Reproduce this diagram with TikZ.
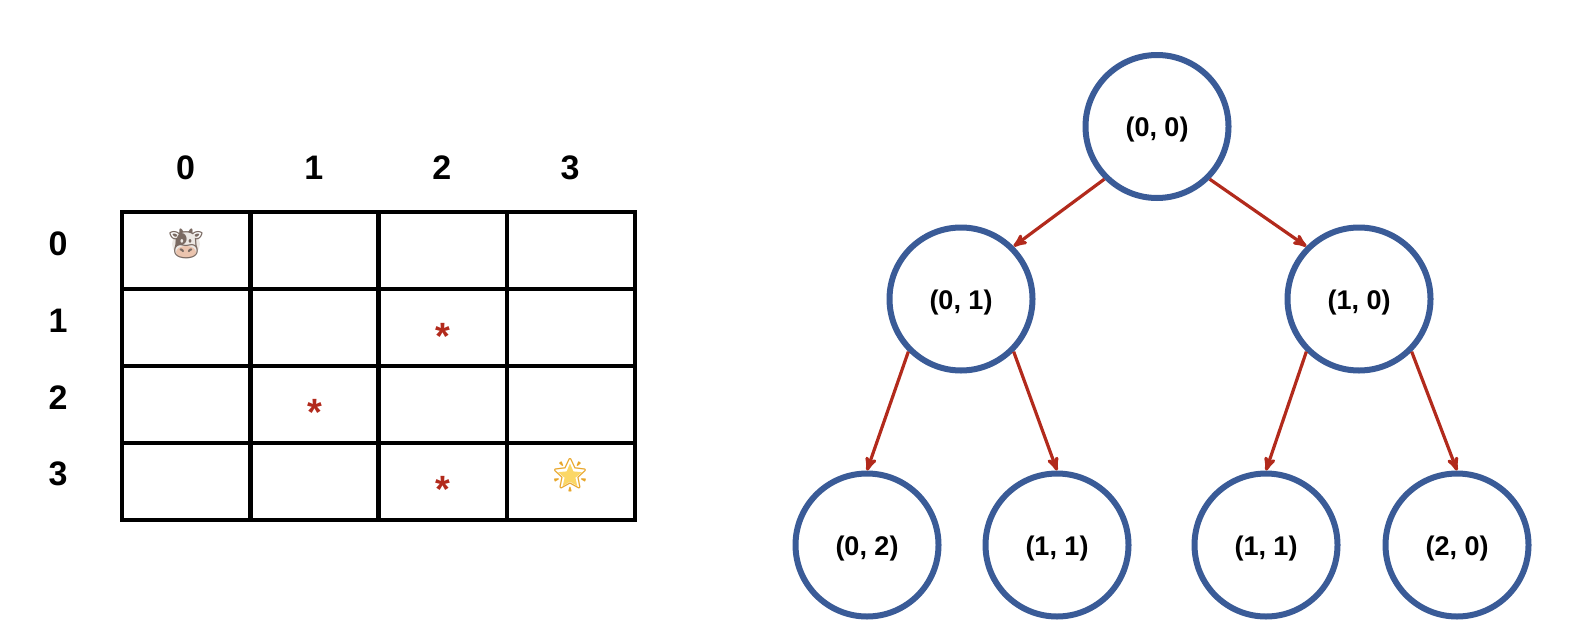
\documentclass[tikz,border=0pt]{standalone}
\usepackage{xcolor}
\usepackage{fontspec}
\setmainfont{Liberation Sans}
\newfontfamily\emojifont{Noto Emoji}
\usetikzlibrary{arrows,automata,shapes.geometric}
\definecolor{ringblue}{HTML}{3A5B97}
\definecolor{edgered}{HTML}{B22A1C}
\definecolor{cowgray}{HTML}{7A6A62}
\definecolor{cowhead}{HTML}{ECE8E4}
\definecolor{cowmuzzle}{HTML}{EBC4AE}
\definecolor{stargold}{HTML}{E8A62A}
\definecolor{starfill}{HTML}{FBD766}

\begin{document}
\begin{tikzpicture}[x=1pt,y=-1pt,->,>=stealth',semithick]
    \tikzstyle{every state}=[fill=white,draw=ringblue,line width=6pt,text=black,minimum size=143pt,inner sep=0pt,text height=26pt,text depth=6pt,font=\fontsize{27}{27}\selectfont\bfseries]
    \tikzstyle{every edge}=[draw=edgered,line width=3.2pt]
    \tikzstyle{gridline}=[-,draw=black,line width=4.5pt,line cap=rect]
    \tikzstyle{axislabel}=[font=\fontsize{34}{34}\selectfont\bfseries,text=black]
    \tikzstyle{wall}=[font=\fontsize{38}{38}\selectfont\bfseries,text=edgered,inner sep=0pt,anchor=base]
    \useasboundingbox (0,0) rectangle (1594,624);
    % grid
    \foreach \c in {0,...,4}
        \draw[gridline] (122+\c*128.25,212) -- (122+\c*128.25,520);
    \foreach \r in {0,...,4}
        \draw[gridline] (122,212+\r*77) -- (635,212+\r*77);
    \foreach \c in {0,...,3}
        \node[axislabel] (col\c) at (185.5+\c*128.2,168) {\c};
    \foreach \r in {0,...,3}
        \node[axislabel] (row\r) at (58,244+\r*76.7) {\r};
    \fill[cowhead] (186,244) ellipse (14 and 13);
    \fill[cowmuzzle] (186,252) ellipse (10 and 6);
    \node[font=\emojifont\fontsize{31}{31}\selectfont,text=cowgray,inner sep=0pt] (cow) at (186,244) {🐮};
    \node[star,star points=5,star point ratio=2.2,fill=starfill,inner sep=0pt,minimum size=25pt] (starbody) at (570,476) {};
    \node[font=\emojifont\fontsize{33}{33}\selectfont,text=stargold,inner sep=0pt] (goal) at (570,475) {🌟};
    \node[wall] (w1) at (443,349) {*};
    \node[wall] (w2) at (315,425) {*};
    \node[wall] (w3) at (443,502) {*};
    % tree
    \node[state] (A) at (1157,126.5)  {(0, 0)};
    \node[state] (B) at (961,299)   {(0, 1)};
    \node[state] (C) at (1359,299)  {(1, 0)};
    \node[state] (D) at (867,545)   {(0, 2)};
    \node[state] (E) at (1057,545)  {(1, 1)};
    \node[state] (F) at (1266,545)  {(1, 1)};
    \node[state] (G) at (1457,545)  {(2, 0)};
\path
(A.225) edge (B.45)
(A.315) edge (C.135)
(B.225) edge (D.north)
(B.315) edge (E.north)
(C.225) edge (F.north)
(C.315) edge (G.north);
  \end{tikzpicture}
\end{document}
